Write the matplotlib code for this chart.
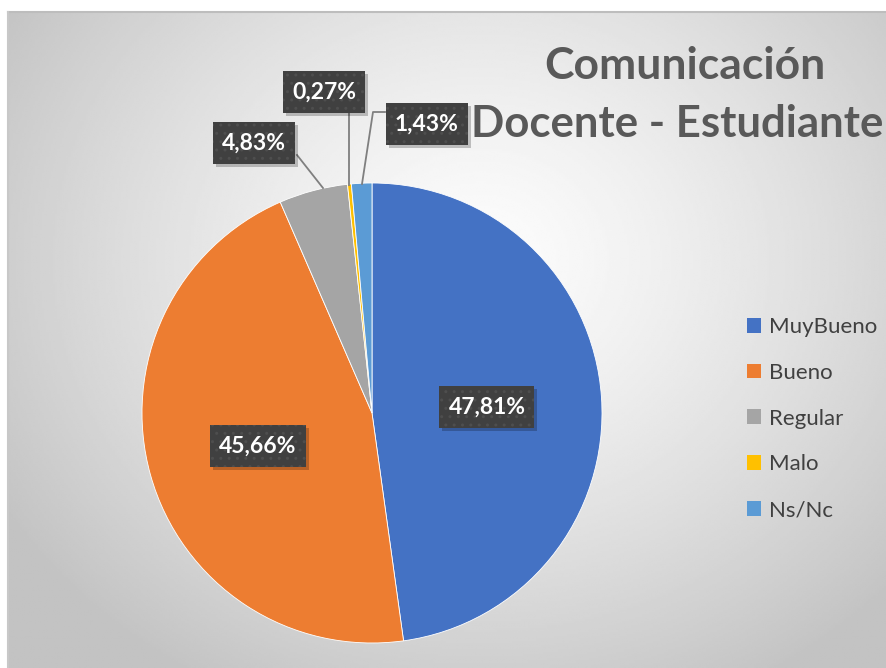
import numpy as np
import matplotlib
matplotlib.use('Agg')
import matplotlib.pyplot as plt
from matplotlib.patches import Patch, Rectangle

plt.rcParams['font.family'] = ['Lato', 'DejaVu Sans']

categories = ['MuyBueno', 'Bueno', 'Regular', 'Malo', 'Ns/Nc']
values = [47.81, 45.66, 4.83, 0.27, 1.43]
colors = ['#4472C4', '#ED7D31', '#A5A5A5', '#FFC000', '#5B9BD5']
title_lines = ['Comunicación', 'Docente - Estudiante']

W, H = 887, 668
fig = plt.figure(figsize=(W / 100, H / 100), dpi=100)
ax = fig.add_axes([0, 0, 1, 1])

# chart area background: radial grey gradient
x0, x1, y0, y1 = 8, W, 0, H - 12
gx, gy = np.meshgrid(np.linspace(x0, x1, 400), np.linspace(y1, y0, 300))
cx, cy = 480, H - 260
d = np.sqrt((gx - cx) ** 2 + ((gy - cy) * 1.15) ** 2) / 560
d = np.clip(d, 0, 1)
grey = 0.99 - (0.99 - 0.765) * d ** 1.3
ax.imshow(grey, cmap='gray', vmin=0, vmax=1, extent=[x0, x1, y0, y1],
          aspect='auto', zorder=0, interpolation='bilinear')
ax.plot([x0, x1], [y1, y1], color='#bdbdbd', lw=1.5, zorder=1)
ax.plot([x0, x0], [y0, y1], color='#c8c8c8', lw=1.5, zorder=1)

# pie
center = (372, H - 413)
radius = 230
wedges, _ = ax.pie(values, colors=colors, startangle=90, counterclock=False,
                   center=center, radius=radius, frame=True,
                   wedgeprops=dict(linewidth=0.6, edgecolor='white'))
for w in wedges:
    w.set_zorder(2)
ax.set_xlim(0, W)
ax.set_ylim(0, H)
ax.set_aspect('equal')
ax.axis('off')

# data labels
label_pos = [(487, 407), (258, 446), (254, 143), (324, 92), (427, 124)]
lines = [None, None,
         [(297, 155), (323, 188)],
         [(349, 112), (349, 185)],
         [(385, 112), (373, 112), (362, 184)]]
texts = []
for val, (lx, ly), ln in zip(values, label_pos, lines):
    if ln is not None:
        xs = [p[0] for p in ln]
        ys = [H - p[1] for p in ln]
        ax.plot(xs, ys, color='#7f7f7f', lw=1.3, zorder=3)
    txt = ('%.2f%%' % val).replace('.', ',')
    t = ax.text(lx, H - ly, txt, ha='center', va='center', fontsize=16.5,
                fontweight='bold', color='white', zorder=6)
    texts.append(t)

fig.canvas.draw()
inv = ax.transData.inverted()
for t in texts:
    bb = t.get_window_extent().transformed(inv)
    bw = bb.width + 18
    bh = 42
    cxb, cyb = t.get_position()
    ax.add_patch(Rectangle((cxb - bw / 2 + 3, cyb - bh / 2 - 3), bw, bh,
                           facecolor='black', alpha=0.22, edgecolor='none',
                           zorder=4))
    ax.add_patch(Rectangle((cxb - bw / 2, cyb - bh / 2), bw, bh,
                           facecolor='#404040', edgecolor='#4e4e4e',
                           linewidth=0, hatch='..', zorder=5))

# title
ax.text(685, H - 66, title_lines[0], ha='center', va='center', fontsize=32,
        fontweight='bold', color='#595959', zorder=7)
ax.text(883, H - 124, title_lines[1], ha='right', va='center',
        fontsize=31.5, fontweight='bold', color='#595959', zorder=7)

# legend
handles = [Patch(facecolor=c, edgecolor='none') for c in colors]
leg = ax.legend(handles, categories, loc='upper left',
                bbox_to_anchor=(727 / W, 1 - 297 / H), frameon=False,
                fontsize=16, handlelength=0.65, handleheight=0.65,
                handletextpad=0.35, labelspacing=1.16)
for t in leg.get_texts():
    t.set_color('#404040')

fig.savefig('out.png', dpi=100, facecolor='white')
